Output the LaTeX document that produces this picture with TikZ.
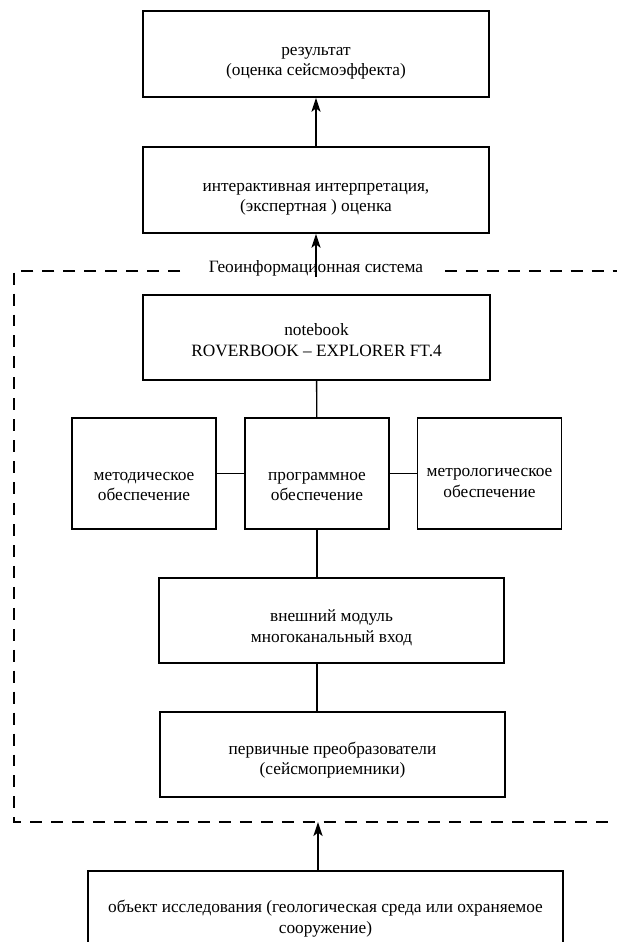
\documentclass[tikz,border=0pt]{standalone}
\usepackage{fontspec}
\setmainfont{Liberation Serif}
\usetikzlibrary{arrows.meta}
\tikzset{
    blok/.style={draw,line width=1.1pt,align=center,inner sep=0pt,
        font=\fontsize{12.3}{14.5}\selectfont,text height=33pt,text depth=2pt},
    ramka/.style={line width=2.1pt,dash pattern=on 8.5pt off 6.4pt},
    svyaz/.style={line width=1pt},
    strelka/.style={line width=1pt,-{Stealth[length=10pt,width=6.5pt,inset=2.5pt]}}
}
\begin{document}
\begin{tikzpicture}[x=0.025cm,y=-0.025cm]
    \useasboundingbox (0,0) rectangle (617,942);

    % Верхние блоки
    \node[blok,minimum width=8.65cm,minimum height=2.15cm] (res) at (316,54)
        {результат\\(оценка сейсмоэффекта)};
    \node[blok,minimum width=8.65cm,minimum height=2.15cm] (interp) at (316,190)
        {интерактивная интерпретация,\\(экспертная ) оценка};

    % Граница ГИС
    \draw[ramka] (180,271) -- (14,271) -- (14,822) -- (625,822);
    \draw[ramka] (445,271) -- (625,271);
    \node[font=\fontsize{12.3}{14.5}\selectfont] (gis) at (316,268) {Геоинформационная система};

    % Блоки внутри ГИС
    \node[blok,minimum width=8.67cm,minimum height=2.125cm,text height=28.5pt] (note) at (316.5,337.5)
        {notebook\\ROVERBOOK -- EXPLORER FT.4};
    \foreach \name/\x/\h/\txt in {metod/144/41pt/{методическое\\обеспечение},
                                  prog/317/41pt/{программное\\обеспечение},
                                  metr/489.5/35.5pt/{метрологическое\\обеспечение}} {
        \node[blok,minimum width=3.6cm,minimum height=2.775cm,text height=\h] (\name) at (\x,473.5) {\txt};
    }
    \node[blok,minimum width=8.625cm,minimum height=2.125cm] (modul) at (331.5,620.5)
        {внешний модуль\\многоканальный вход};
    \node[blok,minimum width=8.625cm,minimum height=2.125cm,text height=30.5pt] (perv) at (332.5,754.5)
        {первичные преобразователи\\(сейсмоприемники)};

    % Объект
    \node[blok,minimum width=11.875cm,minimum height=2.35cm,text height=23.5pt] (obj) at (325.5,918)
        {объект исследования (геологическая среда или охраняемое\\сооружение)};

    % Связи
    \coordinate (vhod) at (316,277);
    \coordinate (vyhod) at (318,822);
    \draw[strelka] (interp) -- (res);
    \draw[strelka] (vhod) -- (interp.south);
    \draw[svyaz] (note) -- (prog);
    \draw[svyaz] (metod.east) -- (prog.west);
    \draw[svyaz] (prog.east) -- (metr.west);
    \draw[svyaz] (prog.south) -- (prog.south |- modul.north);
    \draw[svyaz] (prog.south |- modul.south) -- (prog.south |- perv.north);
    \draw[strelka] (vyhod |- obj.north) -- (vyhod);
\end{tikzpicture}
\end{document}
